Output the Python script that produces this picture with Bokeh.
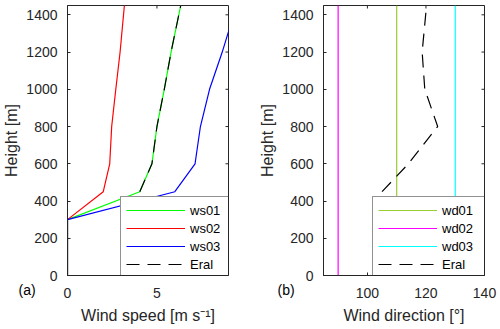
import math
from bokeh.plotting import figure
from bokeh.layouts import row
from bokeh.models import Range1d, SingleIntervalTicker, Legend, LegendItem
from bokeh.core.properties import value
from bokeh.embed import file_html
from bokeh.resources import INLINE

# ---------------- data ----------------
heights = [0, 300, 450, 600, 800, 1000, 1200, 1450]
ws01 = [0, 0, 4.04, 4.72, 5.0, 5.41, 5.79, 6.33]
ws02 = [0, 0, 2.0, 2.36, 2.47, 2.70, 2.94, 3.18]
ws03 = [0, 0, 6.0, 7.13, 7.43, 7.94, 8.65, 9.45]

eral_heights = [450, 600, 800, 1000, 1200, 1450]
eral_ws = [4.04, 4.72, 5.0, 5.41, 5.79, 6.33]
eral_wd = [105, 114, 124, 119.6, 118.7, 120.2]

wd_heights = [0, 1450]
wd01 = [110, 110]
wd02 = [90, 90]
wd03 = [130, 130]

height_ticks = [0, 200, 400, 600, 800, 1000, 1200, 1400]
ws_ticks = [0, 5]
wd_ticks = [100, 120, 140]

FONT = "Liberation Sans"
AX = "#262626"
TICK_FS = "14px"
LAB_FS = "16px"
LEG_FS = "13px"


def style(p, xint, xlabel, xticks, xmax, ymax):
    p.outline_line_color = AX
    p.outline_line_width = 1
    p.grid.visible = False
    for ax in p.axis:
        ax.axis_line_color = AX
        ax.major_tick_line_color = AX
        ax.major_tick_in = 3
        ax.major_tick_out = 0
        ax.minor_tick_line_color = None
        ax.major_label_text_font = FONT
        ax.major_label_text_font_size = TICK_FS
        ax.major_label_text_color = AX
        ax.axis_label_text_font = FONT
        ax.axis_label_text_font_size = LAB_FS
        ax.axis_label_text_font_style = "normal"
        ax.axis_label_text_color = AX
    p.xaxis.ticker = SingleIntervalTicker(interval=xint)
    p.yaxis.ticker = SingleIntervalTicker(interval=200)
    p.xaxis.axis_label = xlabel
    p.yaxis.axis_label = "Height [m]"
    p.xaxis.major_label_standoff = 8
    p.xaxis.axis_label_standoff = 6
    p.yaxis.major_label_standoff = 6
    p.yaxis.axis_label_standoff = 3
    # mirrored inward ticks on top and right edges
    p.ray(x=xticks, y=[ymax] * len(xticks), length=3, length_units="screen",
          angle=-math.pi / 2, line_color=AX, line_width=1)
    p.ray(x=[xmax] * len(height_ticks), y=height_ticks, length=3,
          length_units="screen", angle=math.pi, line_color=AX, line_width=1)


def make_legend(p, items, loc, lw):
    leg = Legend(items=items, location=loc, margin=0,
                 border_line_color=AX, border_line_width=1,
                 background_fill_color="white", background_fill_alpha=1,
                 label_text_font=FONT, label_text_font_size=LEG_FS,
                 label_text_color="black",
                 glyph_width=59, glyph_height=16, label_height=16,
                 label_width=lw, padding=5, spacing=2, label_standoff=5)
    p.add_layout(leg, "center")


def panel_tag(p, x, y, txt):
    p.text(x=[x], y=[y], text=[txt], text_font=value(FONT),
           text_font_size=value(TICK_FS), text_color="black",
           text_baseline="middle", text_align="left", level="overlay")


W1, W2, H = 250, 250, 329
# ---------------- panel (a) ----------------
p1 = figure(width=W1, height=H, output_backend="svg", toolbar_location=None,
            x_range=Range1d(0, 9), y_range=Range1d(0, 1450),
            min_border_left=67, min_border_right=22,
            min_border_top=5, min_border_bottom=54)
style(p1, 5, "Wind speed [m s\u207b\u00b9]", ws_ticks, 9, 1450)
r1 = p1.line(ws01, heights, line_color="#00FF00", line_width=1.2)
r2 = p1.line(ws02, heights, line_color="#FF0000", line_width=1.2)
r3 = p1.line(ws03, heights, line_color="#0000FF", line_width=1.2)
r4 = p1.line(eral_ws, eral_heights, line_color="black", line_width=1.2,
             line_dash="13 8")
make_legend(p1, [LegendItem(label="ws01", renderers=[r1]),
                 LegendItem(label="ws02", renderers=[r2]),
                 LegendItem(label="ws03", renderers=[r3]),
                 LegendItem(label="Eral", renderers=[r4])], (53, -3), 34)
panel_tag(p1, -2.74, -80, "(a)")

# ---------------- panel (b) ----------------
p2 = figure(width=W2, height=H, output_backend="svg", toolbar_location=None,
            x_range=Range1d(85, 140), y_range=Range1d(0, 1450),
            min_border_left=73, min_border_right=16,
            min_border_top=5, min_border_bottom=54)
style(p2, 20, "Wind direction [\u00b0]", wd_ticks, 140, 1450)
q1 = p2.line(wd01, wd_heights, line_color="#9ACD32", line_width=1.2)
q2 = p2.line(wd02, wd_heights, line_color="#FF00FF", line_width=1.2)
q3 = p2.line(wd03, wd_heights, line_color="#00FFFF", line_width=1.2)
q4 = p2.line(eral_wd, eral_heights, line_color="black", line_width=1.2,
             line_dash="13 8")
make_legend(p2, [LegendItem(label="wd01", renderers=[q1]),
                 LegendItem(label="wd02", renderers=[q2]),
                 LegendItem(label="wd03", renderers=[q3]),
                 LegendItem(label="Eral", renderers=[q4])], (49, -3), 37)
panel_tag(p2, 69.3, -80, "(b)")

layout = row(p1, p2)
open("out.html", "w").write(file_html(layout, INLINE))
